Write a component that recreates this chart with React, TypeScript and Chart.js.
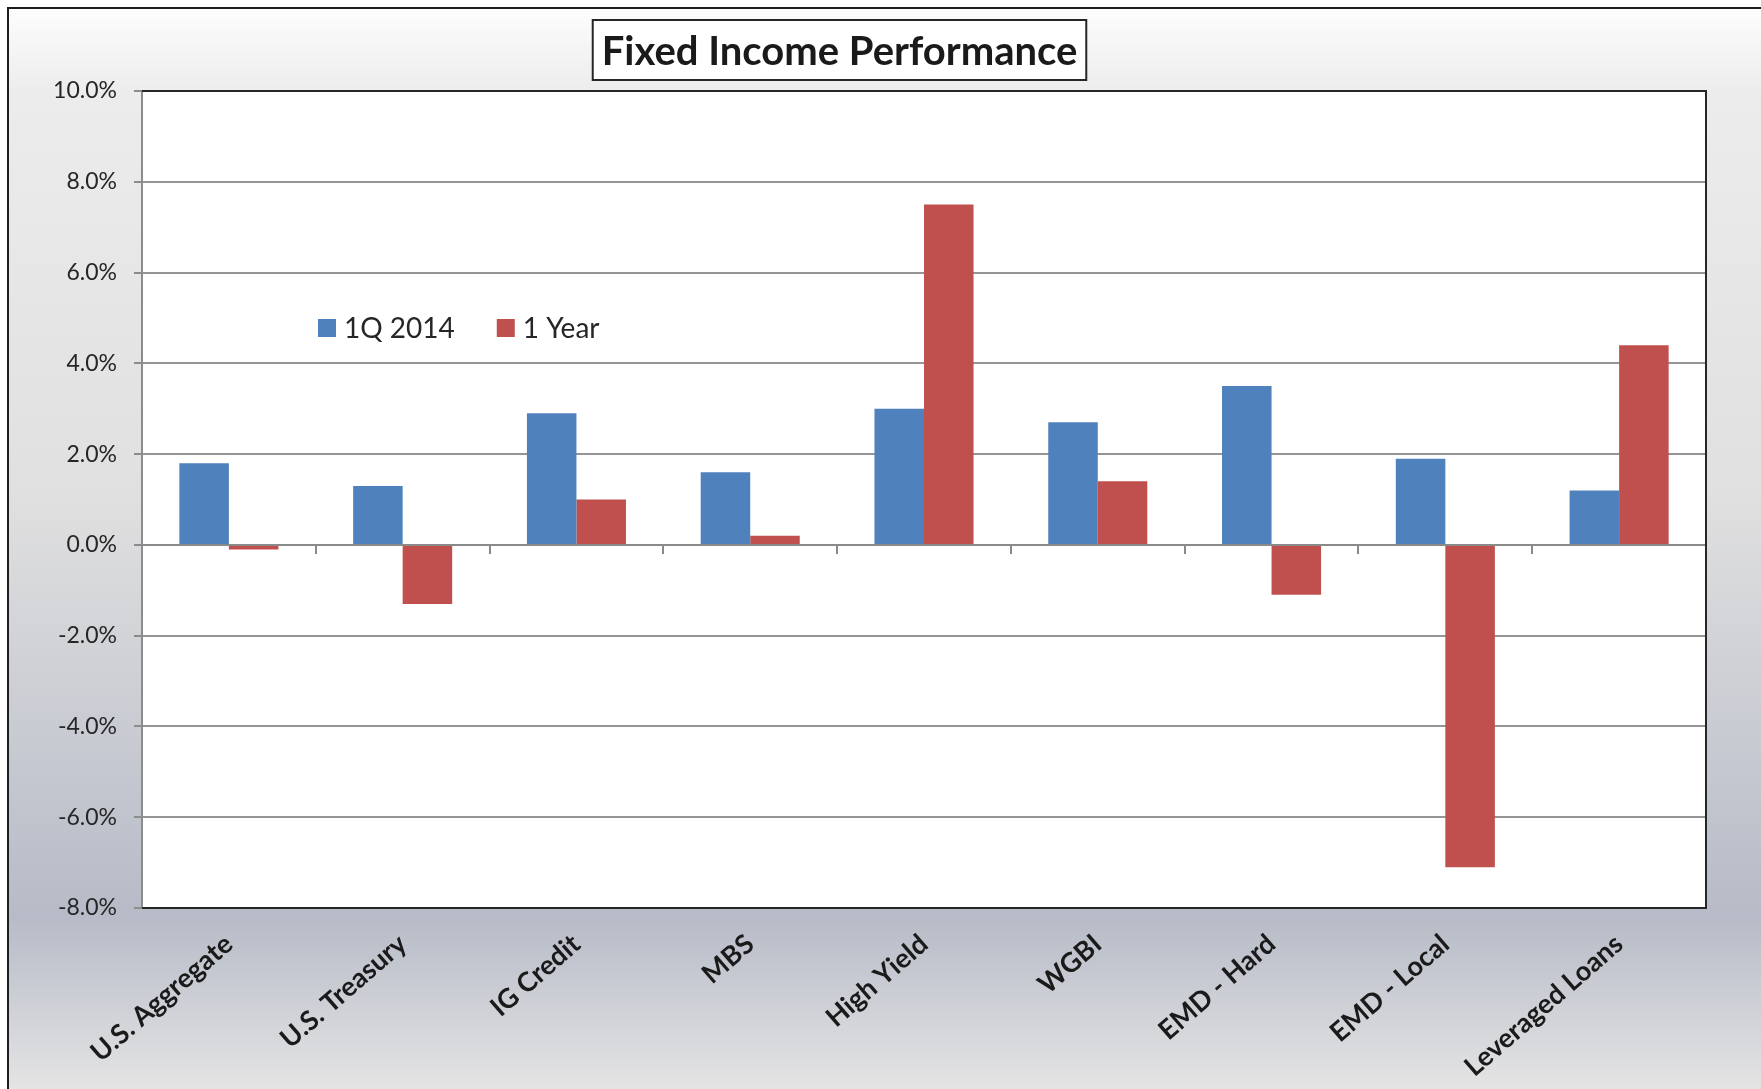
import React, { useEffect, useRef } from 'react';
import { Chart, registerables } from 'chart.js';

Chart.register(...registerables);

const chartTitle = 'Fixed Income Performance';
const categories = [
  'U.S. Aggregate',
  'U.S. Treasury',
  'IG Credit',
  'MBS',
  'High Yield',
  'WGBI',
  'EMD - Hard',
  'EMD - Local',
  'Leveraged Loans',
];
const seriesLabels = ['1Q 2014', '1 Year'];
const q1_2014 = [1.8, 1.3, 2.9, 1.6, 3.0, 2.7, 3.5, 1.9, 1.2];
const oneYear = [-0.1, -1.3, 1.0, 0.2, 7.5, 1.4, -1.1, -7.1, 4.4];
const yMin = -8;
const yMax = 10;
const yStep = 2;

const W = 1761;
const H = 1089;
const FONT = 'Lato, "Open Sans", sans-serif';

const decorPlugin = {
  id: 'decor',
  beforeDraw(chart: any) {
    const { ctx, width, height, chartArea: ca } = chart;
    ctx.save();
    ctx.fillStyle = '#ffffff';
    ctx.fillRect(0, 0, width, height);
    const g = ctx.createLinearGradient(0, 8, 0, height);
    g.addColorStop(0, '#fdfdfd');
    g.addColorStop(0.08, '#ececec');
    g.addColorStop(0.45, '#e0e0e0');
    g.addColorStop(0.84, '#b6bbc7');
    g.addColorStop(1, '#e4e4e4');
    ctx.fillStyle = g;
    ctx.fillRect(8, 8, width - 8, height - 8);
    ctx.strokeStyle = '#1e1e1e';
    ctx.lineWidth = 2;
    ctx.beginPath();
    ctx.moveTo(8, height);
    ctx.lineTo(8, 8);
    ctx.lineTo(width, 8);
    ctx.stroke();
    ctx.fillStyle = '#ffffff';
    ctx.fillRect(ca.left, ca.top, ca.right - ca.left, ca.bottom - ca.top);
    ctx.restore();
  },
  afterDatasetsDraw(chart: any) {
    const { ctx, chartArea: ca } = chart;
    const xs = chart.scales.x;
    const ys = chart.scales.y;
    const y0 = Math.round(ys.getPixelForValue(0));
    ctx.save();
    ctx.strokeStyle = '#8a8a8a';
    ctx.lineWidth = 2;
    ctx.beginPath();
    ctx.moveTo(ca.left, y0);
    ctx.lineTo(ca.right, y0);
    const n = xs.ticks.length;
    const cw = (xs.right - xs.left) / n;
    for (let i = 1; i < n; i++) {
      const x = Math.round(xs.getPixelForTick(i) - cw / 2);
      ctx.moveTo(x, y0);
      ctx.lineTo(x, y0 + 9);
    }
    ctx.stroke();
    // plot border (top, right, bottom)
    ctx.strokeStyle = '#262626';
    ctx.lineWidth = 2;
    ctx.beginPath();
    ctx.moveTo(ca.left, ca.top);
    ctx.lineTo(ca.right, ca.top);
    ctx.lineTo(ca.right, ca.bottom);
    ctx.lineTo(ca.left, ca.bottom);
    ctx.stroke();
    ctx.restore();
  },
  afterDraw(chart: any) {
    const { ctx, chartArea: ca } = chart;
    ctx.save();
    // title box
    ctx.font = `bold 40px ${FONT}`;
    const tw = ctx.measureText(chartTitle).width;
    const cx = 839.5;
    const bx = cx - tw / 2 - 9;
    const bw = tw + 18;
    ctx.fillStyle = '#ffffff';
    ctx.fillRect(bx, 20, bw, 60);
    ctx.strokeStyle = '#262626';
    ctx.lineWidth = 2;
    ctx.strokeRect(bx, 20, bw, 60);
    ctx.fillStyle = '#1a1a1a';
    ctx.textAlign = 'center';
    ctx.textBaseline = 'alphabetic';
    ctx.fillText(chartTitle, cx, 65);
    // legend
    ctx.font = `28px ${FONT}`;
    ctx.textAlign = 'left';
    ctx.textBaseline = 'middle';
    let lx = ca.left + 176;
    const ly = 328;
    chart.data.datasets.forEach((ds: any) => {
      ctx.fillStyle = ds.backgroundColor;
      ctx.fillRect(lx, ly - 9, 18, 18);
      ctx.fillStyle = '#262626';
      ctx.fillText(ds.label, lx + 26, ly + 1);
      lx += 26 + ctx.measureText(ds.label).width + 42;
    });
    ctx.restore();
  },
};

export default function App() {
  const ref = useRef<HTMLCanvasElement>(null);
  useEffect(() => {
    if (!ref.current) return;
    const chart = new Chart(ref.current, {
      type: 'bar',
      data: {
        labels: categories,
        datasets: [
          { label: seriesLabels[0], data: q1_2014, backgroundColor: '#4f81bd' },
          { label: seriesLabels[1], data: oneYear, backgroundColor: '#c0504d' },
        ],
      },
      plugins: [decorPlugin],
      options: {
        responsive: false,
        animation: false,
        devicePixelRatio: 1,
        layout: { padding: { top: 91, right: 55, bottom: 0, left: 0 } },
        datasets: {
          bar: { categoryPercentage: 0.57, barPercentage: 1 },
        },
        plugins: {
          legend: { display: false },
          title: { display: false },
          tooltip: { enabled: false },
        },
        scales: {
          x: {
            grid: { display: false, drawTicks: false },
            border: { display: false },
            afterFit: (s: any) => {
              s.height = H - 908;
            },
            ticks: {
              minRotation: 41,
              maxRotation: 41,
              autoSkip: false,
              padding: 20,
              color: '#1a1a1a',
              font: { family: FONT, size: 27, weight: 'bold' },
            },
          },
          y: {
            min: yMin,
            max: yMax,
            afterFit: (s: any) => {
              s.width = 142;
            },
            ticks: {
              stepSize: yStep,
              padding: 17,
              color: '#262626',
              font: { family: FONT, size: 23 },
              callback: (v: any) => Number(v).toFixed(1) + '%',
            },
            grid: {
              color: '#959595',
              lineWidth: 2,
              tickLength: 8,
              tickColor: '#8c8c8c',
              tickWidth: 2,
            },
            border: { display: true, color: '#8c8c8c', width: 2 },
          },
        },
      },
    });
    return () => chart.destroy();
  }, []);
  return (
    <div style={{ position: 'absolute', left: 0, top: 0, width: W, height: H }}>
      <canvas ref={ref} width={W} height={H} style={{ display: 'block' }} />
    </div>
  );
}
